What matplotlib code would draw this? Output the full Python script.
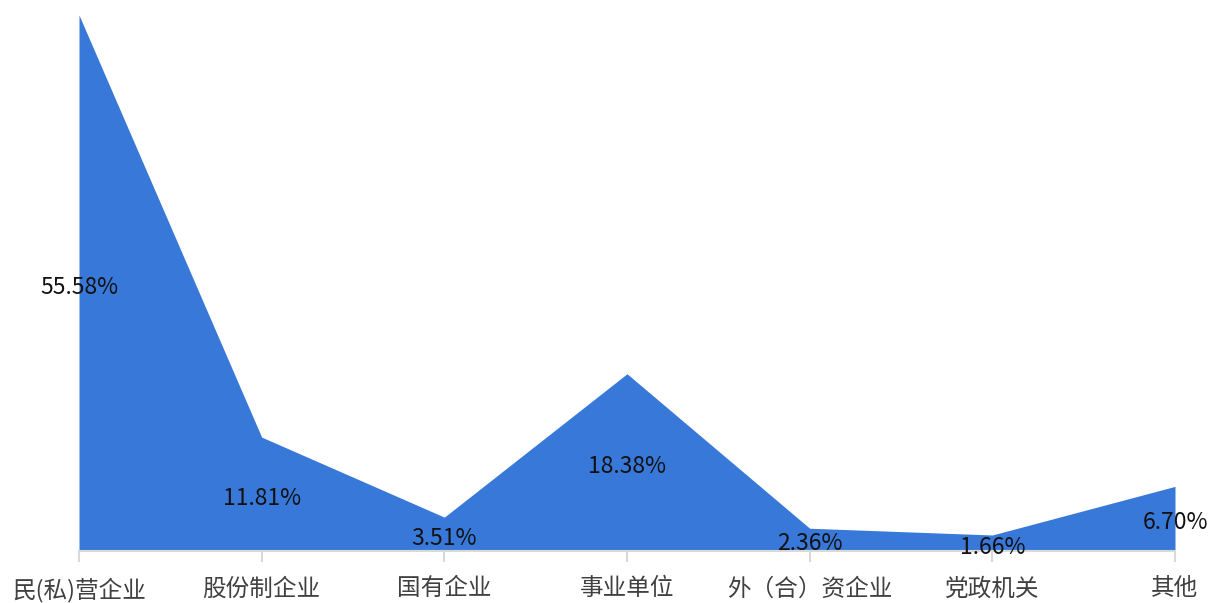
import matplotlib
matplotlib.use("Agg")
import matplotlib.pyplot as plt

plt.rcParams['font.family'] = ['Noto Sans CJK SC', 'DejaVu Sans']

categories = ["民(私)营企业", "股份制企业", "国有企业", "事业单位", "外（合）资企业", "党政机关", "其他"]
values = [55.58, 11.81, 3.51, 18.38, 2.36, 1.66, 6.70]
labels = ["55.58%", "11.81%", "3.51%", "18.38%", "2.36%", "1.66%", "6.70%"]

W, H = 1208, 603
fig = plt.figure(figsize=(W / 100, H / 100), dpi=100)
ax = fig.add_axes([79 / W, (H - 551) / H, (1175 - 79) / W, (551 - 15) / H])

x = list(range(len(categories)))
ax.fill_between(x, values, 0, color="#3878D8", linewidth=0)
ax.set_xlim(0, len(categories) - 1)
ax.set_ylim(0, max(values))

for xi, v, lab in zip(x, values, labels):
    ax.annotate(lab, (xi, v / 2), xytext=(0, -3), textcoords="offset points",
                ha="center", va="center", fontsize=16.5, color="#111111")

for s in ["top", "right", "left"]:
    ax.spines[s].set_visible(False)
ax.spines["bottom"].set_color("#D9D9D9")
ax.spines["bottom"].set_linewidth(1.5)
ax.set_yticks([])
ax.set_xticks(x)
ax.set_xticklabels(categories, fontsize=17, color="#404040")
ax.tick_params(axis="x", length=8, width=1.5, color="#D9D9D9", pad=11)

fig.savefig("out.png", dpi=100)
